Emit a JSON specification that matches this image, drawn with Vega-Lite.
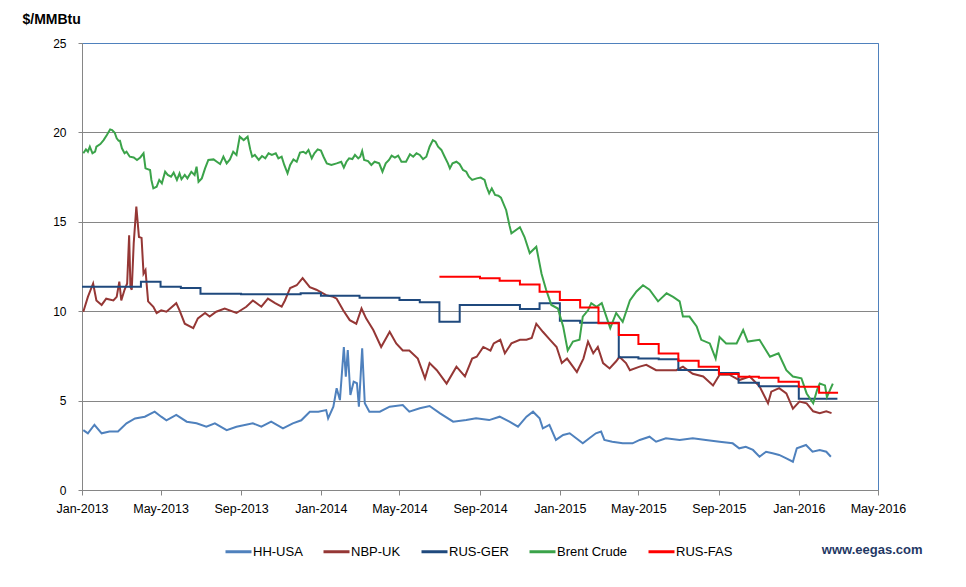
{
  "$schema": "https://vega.github.io/schema/vega-lite/v6.json",
  "width": 796,
  "height": 447,
  "autosize": "none",
  "padding": {"left": 82, "top": 43, "right": 88, "bottom": 97},
  "background": "white",
  "config": {"font": "Liberation Sans", "view": {"stroke": "#4f81bd", "strokeWidth": 1}},
  "datasets": {
    "hh": [
      {"d":"2013-01-03","v":3.35},{"d":"2013-01-10","v":3.17},{"d":"2013-01-20","v":3.65},{"d":"2013-01-31","v":3.17},{"d":"2013-02-12","v":3.27},{"d":"2013-02-25","v":3.27},{"d":"2013-03-10","v":3.73},{"d":"2013-03-23","v":4.0},{"d":"2013-04-07","v":4.1},{"d":"2013-04-22","v":4.38},{"d":"2013-05-02","v":4.1},{"d":"2013-05-10","v":3.9},{"d":"2013-05-25","v":4.2},{"d":"2013-06-10","v":3.82},{"d":"2013-06-25","v":3.73},{"d":"2013-07-10","v":3.54},{"d":"2013-07-23","v":3.73},{"d":"2013-08-10","v":3.35},{"d":"2013-08-25","v":3.54},{"d":"2013-09-19","v":3.73},{"d":"2013-10-02","v":3.54},{"d":"2013-10-17","v":3.82},{"d":"2013-11-04","v":3.45},{"d":"2013-11-19","v":3.73},{"d":"2013-12-02","v":3.9},{"d":"2013-12-15","v":4.38},{"d":"2013-12-28","v":4.38},{"d":"2014-01-09","v":4.47},{"d":"2014-01-12","v":4.0},{"d":"2014-01-20","v":4.66},{"d":"2014-01-25","v":5.69},{"d":"2014-01-30","v":5.03},{"d":"2014-02-05","v":8.0},{"d":"2014-02-08","v":6.34},{"d":"2014-02-11","v":7.83},{"d":"2014-02-15","v":5.31},{"d":"2014-02-20","v":6.06},{"d":"2014-02-25","v":5.97},{"d":"2014-02-28","v":4.66},{"d":"2014-03-05","v":7.92},{"d":"2014-03-09","v":4.85},{"d":"2014-03-16","v":4.38},{"d":"2014-04-01","v":4.38},{"d":"2014-04-16","v":4.66},{"d":"2014-05-06","v":4.75},{"d":"2014-05-16","v":4.38},{"d":"2014-06-01","v":4.57},{"d":"2014-06-16","v":4.7},{"d":"2014-07-02","v":4.29},{"d":"2014-07-22","v":3.82},{"d":"2014-08-11","v":3.91},{"d":"2014-08-26","v":4.01},{"d":"2014-09-15","v":3.91},{"d":"2014-10-01","v":4.1},{"d":"2014-10-16","v":3.82},{"d":"2014-10-29","v":3.54},{"d":"2014-11-11","v":4.1},{"d":"2014-11-21","v":4.38},{"d":"2014-12-01","v":4.01},{"d":"2014-12-06","v":3.45},{"d":"2014-12-16","v":3.64},{"d":"2014-12-26","v":2.8},{"d":"2015-01-06","v":3.08},{"d":"2015-01-16","v":3.17},{"d":"2015-01-26","v":2.89},{"d":"2015-02-05","v":2.61},{"d":"2015-02-15","v":2.89},{"d":"2015-02-25","v":3.17},{"d":"2015-03-05","v":3.27},{"d":"2015-03-10","v":2.8},{"d":"2015-03-22","v":2.7},{"d":"2015-04-07","v":2.61},{"d":"2015-04-22","v":2.61},{"d":"2015-05-03","v":2.8},{"d":"2015-05-18","v":2.98},{"d":"2015-05-28","v":2.7},{"d":"2015-06-12","v":2.89},{"d":"2015-07-03","v":2.8},{"d":"2015-07-23","v":2.89},{"d":"2015-08-12","v":2.8},{"d":"2015-09-02","v":2.7},{"d":"2015-09-22","v":2.61},{"d":"2015-10-02","v":2.33},{"d":"2015-10-12","v":2.42},{"d":"2015-10-23","v":2.24},{"d":"2015-11-02","v":1.86},{"d":"2015-11-12","v":2.14},{"d":"2015-11-22","v":2.05},{"d":"2015-12-02","v":1.96},{"d":"2015-12-13","v":1.77},{"d":"2015-12-23","v":1.58},{"d":"2015-12-29","v":2.33},{"d":"2016-01-12","v":2.52},{"d":"2016-01-22","v":2.14},{"d":"2016-02-02","v":2.24},{"d":"2016-02-12","v":2.14},{"d":"2016-02-19","v":1.86}
    ],
    "nbp": [
      {"d":"2013-01-03","v":9.97},{"d":"2013-01-10","v":10.8},{"d":"2013-01-18","v":11.55},{"d":"2013-01-23","v":10.6},{"d":"2013-01-31","v":10.35},{"d":"2013-02-07","v":10.7},{"d":"2013-02-18","v":10.6},{"d":"2013-02-23","v":10.8},{"d":"2013-02-27","v":11.65},{"d":"2013-03-02","v":10.6},{"d":"2013-03-07","v":11.2},{"d":"2013-03-11","v":11.55},{"d":"2013-03-14","v":14.25},{"d":"2013-03-16","v":11.35},{"d":"2013-03-18","v":11.2},{"d":"2013-03-21","v":13.8},{"d":"2013-03-25","v":15.85},{"d":"2013-03-29","v":14.15},{"d":"2013-04-02","v":14.1},{"d":"2013-04-05","v":12.1},{"d":"2013-04-08","v":12.3},{"d":"2013-04-12","v":10.55},{"d":"2013-04-20","v":10.25},{"d":"2013-04-25","v":9.9},{"d":"2013-05-02","v":10.05},{"d":"2013-05-10","v":9.97},{"d":"2013-05-25","v":10.45},{"d":"2013-05-30","v":10.05},{"d":"2013-06-07","v":9.3},{"d":"2013-06-20","v":9.05},{"d":"2013-06-27","v":9.6},{"d":"2013-07-08","v":9.9},{"d":"2013-07-15","v":9.7},{"d":"2013-07-25","v":9.97},{"d":"2013-08-07","v":10.15},{"d":"2013-08-25","v":9.9},{"d":"2013-09-09","v":10.25},{"d":"2013-09-19","v":10.6},{"d":"2013-10-02","v":10.25},{"d":"2013-10-12","v":10.7},{"d":"2013-10-23","v":10.45},{"d":"2013-11-02","v":10.25},{"d":"2013-11-07","v":10.6},{"d":"2013-11-15","v":11.3},{"d":"2013-11-25","v":11.45},{"d":"2013-12-04","v":11.85},{"d":"2013-12-15","v":11.35},{"d":"2013-12-25","v":11.2},{"d":"2014-01-09","v":10.9},{"d":"2014-01-20","v":10.8},{"d":"2014-01-25","v":10.7},{"d":"2014-02-04","v":10.05},{"d":"2014-02-14","v":9.5},{"d":"2014-02-24","v":9.3},{"d":"2014-03-04","v":10.15},{"d":"2014-03-11","v":9.6},{"d":"2014-03-22","v":8.95},{"d":"2014-04-03","v":8.0},{"d":"2014-04-16","v":8.85},{"d":"2014-04-26","v":8.2},{"d":"2014-05-06","v":7.8},{"d":"2014-05-16","v":7.8},{"d":"2014-05-29","v":7.35},{"d":"2014-06-09","v":6.25},{"d":"2014-06-16","v":7.1},{"d":"2014-06-27","v":6.7},{"d":"2014-07-12","v":5.95},{"d":"2014-07-27","v":6.9},{"d":"2014-08-09","v":6.35},{"d":"2014-08-20","v":7.35},{"d":"2014-08-27","v":7.45},{"d":"2014-09-06","v":8.0},{"d":"2014-09-17","v":7.8},{"d":"2014-09-22","v":8.2},{"d":"2014-10-02","v":8.4},{"d":"2014-10-09","v":7.65},{"d":"2014-10-19","v":8.2},{"d":"2014-11-01","v":8.4},{"d":"2014-11-11","v":8.4},{"d":"2014-11-19","v":8.5},{"d":"2014-11-26","v":9.3},{"d":"2014-12-06","v":8.85},{"d":"2014-12-17","v":8.4},{"d":"2014-12-27","v":8.0},{"d":"2015-01-04","v":7.1},{"d":"2015-01-12","v":7.35},{"d":"2015-01-27","v":6.6},{"d":"2015-02-06","v":7.35},{"d":"2015-02-13","v":8.3},{"d":"2015-02-21","v":7.65},{"d":"2015-02-28","v":8.0},{"d":"2015-03-08","v":7.1},{"d":"2015-03-18","v":6.8},{"d":"2015-03-28","v":7.2},{"d":"2015-04-02","v":7.45},{"d":"2015-04-12","v":7.1},{"d":"2015-04-18","v":6.7},{"d":"2015-05-03","v":6.9},{"d":"2015-05-13","v":7.0},{"d":"2015-05-28","v":6.7},{"d":"2015-06-13","v":6.7},{"d":"2015-06-28","v":6.7},{"d":"2015-07-08","v":6.9},{"d":"2015-07-23","v":6.5},{"d":"2015-08-08","v":6.35},{"d":"2015-08-23","v":5.85},{"d":"2015-09-02","v":6.45},{"d":"2015-09-17","v":6.45},{"d":"2015-10-02","v":6.15},{"d":"2015-10-18","v":6.35},{"d":"2015-11-02","v":5.8},{"d":"2015-11-15","v":4.85},{"d":"2015-11-20","v":5.5},{"d":"2015-12-02","v":5.7},{"d":"2015-12-13","v":5.4},{"d":"2015-12-23","v":4.55},{"d":"2016-01-02","v":4.95},{"d":"2016-01-13","v":4.85},{"d":"2016-01-23","v":4.4},{"d":"2016-02-02","v":4.3},{"d":"2016-02-12","v":4.4},{"d":"2016-02-20","v":4.3}
    ],
    "brent": [
      {"d":"2013-01-03","v":18.83},{"d":"2013-01-07","v":19.05},{"d":"2013-01-10","v":18.92},{"d":"2013-01-13","v":19.2},{"d":"2013-01-17","v":18.83},{"d":"2013-01-21","v":18.92},{"d":"2013-01-23","v":19.2},{"d":"2013-01-29","v":19.35},{"d":"2013-02-03","v":19.57},{"d":"2013-02-08","v":19.85},{"d":"2013-02-13","v":20.17},{"d":"2013-02-16","v":20.13},{"d":"2013-02-20","v":19.98},{"d":"2013-02-23","v":19.67},{"d":"2013-02-26","v":19.53},{"d":"2013-02-28","v":19.53},{"d":"2013-03-03","v":19.11},{"d":"2013-03-07","v":18.83},{"d":"2013-03-10","v":18.92},{"d":"2013-03-15","v":18.64},{"d":"2013-03-21","v":18.6},{"d":"2013-03-26","v":18.46},{"d":"2013-03-31","v":18.6},{"d":"2013-04-05","v":18.83},{"d":"2013-04-08","v":17.99},{"d":"2013-04-15","v":17.9},{"d":"2013-04-17","v":17.34},{"d":"2013-04-20","v":16.87},{"d":"2013-04-25","v":16.96},{"d":"2013-04-29","v":17.34},{"d":"2013-05-03","v":17.15},{"d":"2013-05-08","v":17.8},{"d":"2013-05-12","v":17.62},{"d":"2013-05-17","v":17.52},{"d":"2013-05-21","v":17.75},{"d":"2013-05-26","v":17.34},{"d":"2013-05-30","v":17.71},{"d":"2013-06-02","v":17.38},{"d":"2013-06-07","v":17.62},{"d":"2013-06-11","v":17.43},{"d":"2013-06-17","v":17.8},{"d":"2013-06-22","v":17.62},{"d":"2013-06-25","v":18.08},{"d":"2013-06-28","v":17.24},{"d":"2013-07-03","v":17.43},{"d":"2013-07-08","v":17.99},{"d":"2013-07-13","v":18.46},{"d":"2013-07-21","v":18.49},{"d":"2013-07-26","v":18.36},{"d":"2013-07-31","v":18.23},{"d":"2013-08-05","v":18.64},{"d":"2013-08-10","v":18.27},{"d":"2013-08-15","v":18.49},{"d":"2013-08-20","v":18.92},{"d":"2013-08-25","v":18.74},{"d":"2013-08-30","v":19.76},{"d":"2013-09-05","v":19.57},{"d":"2013-09-11","v":19.76},{"d":"2013-09-15","v":19.05},{"d":"2013-09-18","v":18.64},{"d":"2013-09-22","v":18.74},{"d":"2013-09-28","v":18.46},{"d":"2013-10-03","v":18.68},{"d":"2013-10-08","v":18.55},{"d":"2013-10-13","v":18.83},{"d":"2013-10-18","v":18.74},{"d":"2013-10-24","v":18.83},{"d":"2013-10-28","v":18.55},{"d":"2013-11-02","v":18.64},{"d":"2013-11-06","v":18.18},{"d":"2013-11-11","v":17.71},{"d":"2013-11-15","v":18.18},{"d":"2013-11-20","v":18.49},{"d":"2013-11-25","v":18.36},{"d":"2013-11-30","v":18.87},{"d":"2013-12-05","v":18.92},{"d":"2013-12-09","v":18.83},{"d":"2013-12-13","v":19.02},{"d":"2013-12-18","v":18.55},{"d":"2013-12-22","v":18.83},{"d":"2013-12-27","v":19.05},{"d":"2014-01-01","v":18.98},{"d":"2014-01-05","v":18.64},{"d":"2014-01-10","v":18.27},{"d":"2014-01-17","v":18.18},{"d":"2014-01-25","v":18.27},{"d":"2014-02-01","v":18.36},{"d":"2014-02-05","v":18.03},{"d":"2014-02-09","v":18.36},{"d":"2014-02-13","v":18.55},{"d":"2014-02-18","v":18.51},{"d":"2014-02-22","v":18.74},{"d":"2014-02-27","v":18.55},{"d":"2014-03-02","v":18.64},{"d":"2014-03-05","v":18.96},{"d":"2014-03-08","v":18.46},{"d":"2014-03-14","v":18.4},{"d":"2014-03-19","v":18.18},{"d":"2014-03-24","v":18.36},{"d":"2014-03-31","v":18.27},{"d":"2014-04-05","v":17.8},{"d":"2014-04-10","v":18.27},{"d":"2014-04-15","v":18.46},{"d":"2014-04-19","v":18.7},{"d":"2014-04-24","v":18.59},{"d":"2014-04-29","v":18.7},{"d":"2014-05-04","v":18.36},{"d":"2014-05-11","v":18.36},{"d":"2014-05-17","v":18.78},{"d":"2014-05-22","v":18.64},{"d":"2014-05-27","v":18.83},{"d":"2014-06-01","v":18.74},{"d":"2014-06-06","v":18.51},{"d":"2014-06-11","v":18.64},{"d":"2014-06-16","v":19.2},{"d":"2014-06-21","v":19.57},{"d":"2014-06-25","v":19.48},{"d":"2014-06-29","v":19.2},{"d":"2014-07-04","v":19.02},{"d":"2014-07-09","v":18.64},{"d":"2014-07-14","v":18.27},{"d":"2014-07-17","v":17.99},{"d":"2014-07-21","v":18.27},{"d":"2014-07-27","v":18.36},{"d":"2014-08-01","v":18.22},{"d":"2014-08-06","v":17.9},{"d":"2014-08-11","v":17.8},{"d":"2014-08-15","v":17.52},{"d":"2014-08-20","v":17.34},{"d":"2014-08-27","v":17.43},{"d":"2014-09-02","v":17.47},{"d":"2014-09-08","v":17.34},{"d":"2014-09-11","v":16.96},{"d":"2014-09-15","v":16.59},{"d":"2014-09-19","v":16.87},{"d":"2014-09-24","v":16.5},{"d":"2014-09-29","v":16.46},{"d":"2014-10-03","v":16.35},{"d":"2014-10-11","v":15.65},{"d":"2014-10-16","v":14.8},{"d":"2014-10-19","v":14.35},{"d":"2014-11-01","v":14.7},{"d":"2014-11-08","v":14.15},{"d":"2014-11-16","v":13.25},{"d":"2014-11-26","v":13.6},{"d":"2014-12-04","v":12.1},{"d":"2014-12-11","v":11.2},{"d":"2014-12-19","v":10.35},{"d":"2014-12-29","v":10.15},{"d":"2015-01-06","v":9.15},{"d":"2015-01-13","v":7.8},{"d":"2015-01-21","v":8.3},{"d":"2015-01-31","v":8.4},{"d":"2015-02-05","v":9.7},{"d":"2015-02-13","v":10.05},{"d":"2015-02-18","v":10.45},{"d":"2015-02-26","v":10.25},{"d":"2015-03-06","v":10.45},{"d":"2015-03-13","v":9.7},{"d":"2015-03-19","v":9.05},{"d":"2015-03-28","v":9.9},{"d":"2015-04-07","v":9.4},{"d":"2015-04-18","v":10.6},{"d":"2015-04-28","v":11.1},{"d":"2015-05-08","v":11.45},{"d":"2015-05-18","v":11.2},{"d":"2015-05-31","v":10.55},{"d":"2015-06-13","v":11.0},{"d":"2015-06-23","v":10.8},{"d":"2015-07-03","v":10.55},{"d":"2015-07-08","v":9.7},{"d":"2015-07-18","v":9.7},{"d":"2015-07-29","v":9.15},{"d":"2015-08-05","v":8.4},{"d":"2015-08-18","v":8.2},{"d":"2015-08-27","v":7.35},{"d":"2015-09-02","v":8.55},{"d":"2015-09-12","v":8.2},{"d":"2015-09-28","v":8.2},{"d":"2015-10-08","v":8.95},{"d":"2015-10-15","v":8.3},{"d":"2015-11-02","v":8.4},{"d":"2015-11-18","v":7.45},{"d":"2015-12-01","v":7.65},{"d":"2015-12-13","v":6.7},{"d":"2015-12-23","v":6.35},{"d":"2016-01-05","v":6.25},{"d":"2016-01-13","v":5.4},{"d":"2016-01-23","v":4.85},{"d":"2016-01-29","v":5.6},{"d":"2016-02-02","v":5.95},{"d":"2016-02-10","v":5.85},{"d":"2016-02-13","v":5.2},{"d":"2016-02-22","v":5.95}
    ],
    "ger": [
      {"d":"2013-01-01","v":11.37},{"d":"2013-04-01","v":11.65},{"d":"2013-05-01","v":11.37},{"d":"2013-06-01","v":11.3},{"d":"2013-07-01","v":10.98},{"d":"2013-09-01","v":10.95},{"d":"2013-12-01","v":11.0},{"d":"2014-01-01","v":10.87},{"d":"2014-03-01","v":10.75},{"d":"2014-05-01","v":10.63},{"d":"2014-06-01","v":10.5},{"d":"2014-07-01","v":9.41},{"d":"2014-08-01","v":10.35},{"d":"2014-11-01","v":10.12},{"d":"2014-12-01","v":10.44},{"d":"2015-01-01","v":9.47},{"d":"2015-02-01","v":9.35},{"d":"2015-04-01","v":7.42},{"d":"2015-05-01","v":7.35},{"d":"2015-06-01","v":7.31},{"d":"2015-07-01","v":6.71},{"d":"2015-09-01","v":6.54},{"d":"2015-10-01","v":6.0},{"d":"2015-11-01","v":5.8},{"d":"2016-01-01","v":5.1},{"d":"2016-02-29","v":5.1}
    ],
    "fas": [
      {"d":"2014-07-01","v":11.93},{"d":"2014-09-01","v":11.84},{"d":"2014-10-01","v":11.7},{"d":"2014-11-01","v":11.5},{"d":"2014-12-01","v":11.09},{"d":"2015-01-01","v":10.63},{"d":"2015-02-01","v":10.2},{"d":"2015-03-01","v":9.32},{"d":"2015-04-01","v":8.67},{"d":"2015-05-01","v":8.17},{"d":"2015-06-01","v":7.64},{"d":"2015-07-01","v":7.23},{"d":"2015-08-01","v":6.9},{"d":"2015-09-01","v":6.49},{"d":"2015-10-01","v":6.34},{"d":"2015-11-01","v":6.28},{"d":"2015-12-01","v":6.06},{"d":"2016-01-01","v":5.78},{"d":"2016-02-01","v":5.44},{"d":"2016-03-01","v":5.44}
    ]
  },
  "encoding": {
    "x": {
      "field": "d", "type": "temporal",
      "scale": {"type": "utc", "domain": [{"year": 2013, "month": 1, "date": 1, "utc": true}, {"year": 2016, "month": 5, "date": 1, "utc": true}]},
      "axis": {
        "title": "www.eegas.com", "titleX": 840, "titleY": 59, "titleAlign": "right", "titleBaseline": "middle", "titleAnchor": null,
        "titleFontSize": 13, "titleFontWeight": "bold", "titleColor": "#1f3864",
        "grid": false,
        "labelExpr": "utcFormat(datum.value, '%b-%Y')",
        "values": [
          {"year": 2013, "month": 1, "date": 1, "utc": true}, {"year": 2013, "month": 5, "date": 1, "utc": true}, {"year": 2013, "month": 9, "date": 1, "utc": true},
          {"year": 2014, "month": 1, "date": 1, "utc": true}, {"year": 2014, "month": 5, "date": 1, "utc": true}, {"year": 2014, "month": 9, "date": 1, "utc": true},
          {"year": 2015, "month": 1, "date": 1, "utc": true}, {"year": 2015, "month": 5, "date": 1, "utc": true}, {"year": 2015, "month": 9, "date": 1, "utc": true},
          {"year": 2016, "month": 1, "date": 1, "utc": true}, {"year": 2016, "month": 5, "date": 1, "utc": true}
        ],
        "labelFontSize": 12.5, "labelColor": "#000000", "labelPadding": 7, "labelFlush": false, "labelOverlap": false,
        "tickSize": 5, "tickColor": "#868686", "domainColor": "#868686"
      }
    },
    "y": {
      "field": "v", "type": "quantitative",
      "scale": {"domain": [0, 25], "nice": false},
      "axis": {
        "values": [0, 5, 10, 15, 20, 25],
        "title": "$/MMBtu", "titleAngle": 0, "titleAlign": "left", "titleBaseline": "middle", "titleX": -60, "titleY": -24,
        "titleFontSize": 14, "titleFontWeight": "bold", "titleColor": "#000000",
        "labelFontSize": 12, "labelColor": "#000000", "labelPadding": 12,
        "tickSize": 4, "tickColor": "#868686", "domainColor": "#868686",
        "gridColor": {"condition": {"test": "datum.value == 25", "value": "#4f81bd"}, "value": "#868686"}
      }
    },
    "color": {
      "field": "s", "type": "nominal",
      "scale": {"domain": ["HH-USA", "NBP-UK", "RUS-GER", "Brent Crude", "RUS-FAS"], "range": ["#4f81bd", "#953735", "#1f497d", "#3ba34a", "#ff0000"]},
      "legend": {
        "title": null, "orient": "none", "direction": "horizontal", "legendX": 142, "legendY": 494,
        "symbolType": "stroke", "symbolStrokeWidth": 3, "symbolSize": 676,
        "labelFontSize": 13, "labelColor": "#000000", "labelOffset": 0, "columnPadding": 14
      }
    }
  },
  "layer": [
    {"data": {"name": "hh"}, "transform": [{"calculate": "'HH-USA'", "as": "s"}], "mark": {"type": "line", "strokeWidth": 2}},
    {"data": {"name": "nbp"}, "transform": [{"calculate": "'NBP-UK'", "as": "s"}], "mark": {"type": "line", "strokeWidth": 2}},
    {"data": {"name": "ger"}, "transform": [{"calculate": "'RUS-GER'", "as": "s"}], "mark": {"type": "line", "strokeWidth": 2, "interpolate": "step-after"}},
    {"data": {"name": "brent"}, "transform": [{"calculate": "'Brent Crude'", "as": "s"}], "mark": {"type": "line", "strokeWidth": 2}},
    {"data": {"name": "fas"}, "transform": [{"calculate": "'RUS-FAS'", "as": "s"}], "mark": {"type": "line", "strokeWidth": 2, "interpolate": "step-after"}}
  ]
}
